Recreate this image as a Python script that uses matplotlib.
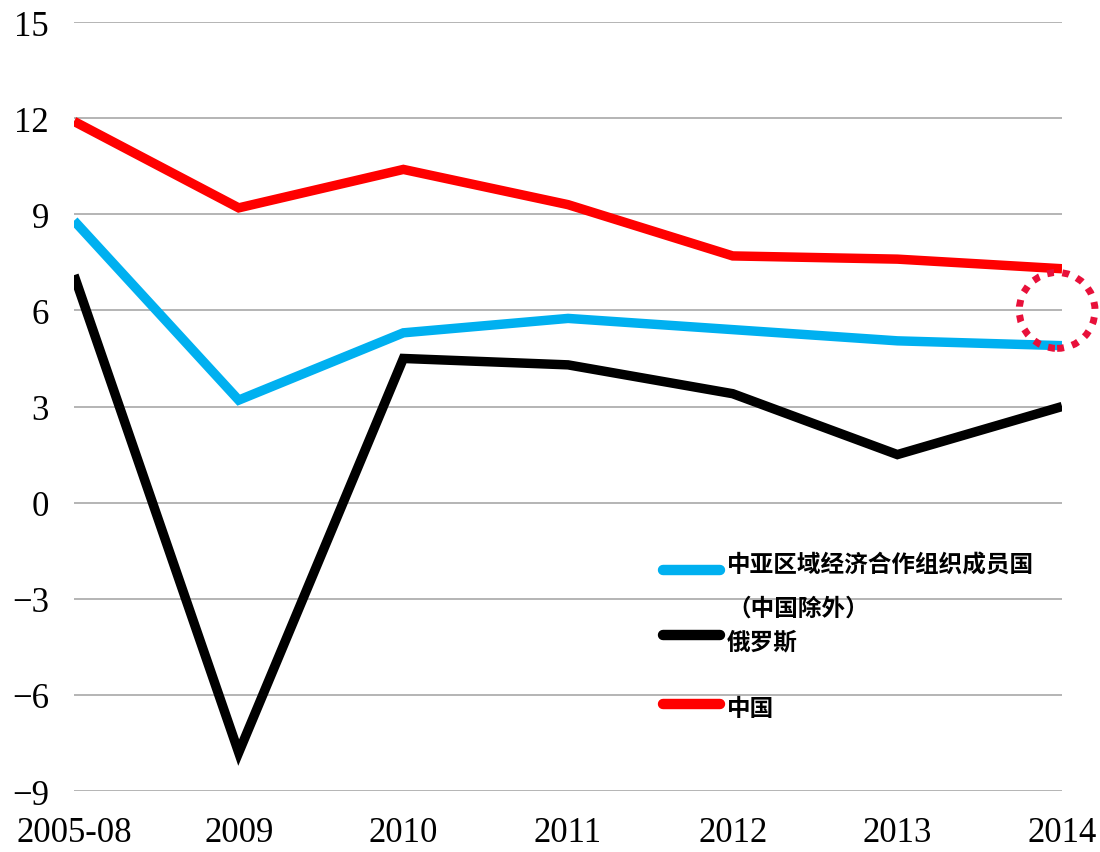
import matplotlib
matplotlib.use("Agg")
import matplotlib.pyplot as plt
from matplotlib.patches import Ellipse
from matplotlib.lines import Line2D

years = ['2005-08', '2009', '2010', '2011', '2012', '2013', '2014']
carec = [8.8, 3.2, 5.3, 5.75, 5.4, 5.05, 4.9]
russia = [7.1, -7.8, 4.5, 4.3, 3.4, 1.5, 3.0]
china = [11.9, 9.2, 10.4, 9.3, 7.7, 7.6, 7.3]
yticks = [15, 12, 9, 6, 3, 0, -3, -6, -9]

labels = ['中亚区域经济合作组织成员国', '（中国除外）', '俄罗斯', '中国']
colors = ['#00B0F0', '#000000', '#FF0000']

fig = plt.figure(figsize=(11, 8.53), dpi=100)
ax = fig.add_axes([0.0673, 0.0715, 0.8982, 0.9015])

x = list(range(len(years)))
for ys, c in zip([carec, russia, china], colors):
    ax.plot(x, ys, color=c, linewidth=6.8, solid_capstyle='butt', solid_joinstyle='miter', zorder=3)

ax.set_xlim(0, 6)
ax.set_ylim(-9, 15)
ax.set_yticks(yticks)
ax.set_xticks(x)
ax.set_xticklabels(years)
ax.yaxis.grid(True, color='#b4b4b4', linewidth=1.4)
ax.set_axisbelow(True)
for s in ax.spines.values():
    s.set_visible(False)
ax.tick_params(axis='both', length=0, labelsize=25)
ax.tick_params(axis='y', pad=18)
ax.tick_params(axis='x', pad=18)
for lab in ax.get_xticklabels() + ax.get_yticklabels():
    lab.set_fontfamily('Liberation Serif')

# dotted circle highlight
circ = Ellipse((5.97, 6.0), 0.46, 2.37, fill=False, edgecolor='#E8103A',
               linewidth=5, linestyle=(0, (1, 1.2)), clip_on=False, zorder=4)
ax.add_patch(circ)

# legend drawn by hand
cjk = ['Noto Sans CJK SC', 'DejaVu Sans']
for yy, c in zip([0.287, 0.203, 0.113], colors):
    ax.add_line(Line2D([0.596, 0.654], [yy, yy], transform=ax.transAxes, color=c,
                       linewidth=7.5, solid_capstyle='round', zorder=5))
for yy, t in zip([0.295, 0.239, 0.194, 0.108], labels):
    ax.text(0.661, yy, t, transform=ax.transAxes, fontsize=17, fontweight='bold',
            family=cjk, va='center', ha='left', zorder=5)

fig.savefig('out.png', dpi=100)
